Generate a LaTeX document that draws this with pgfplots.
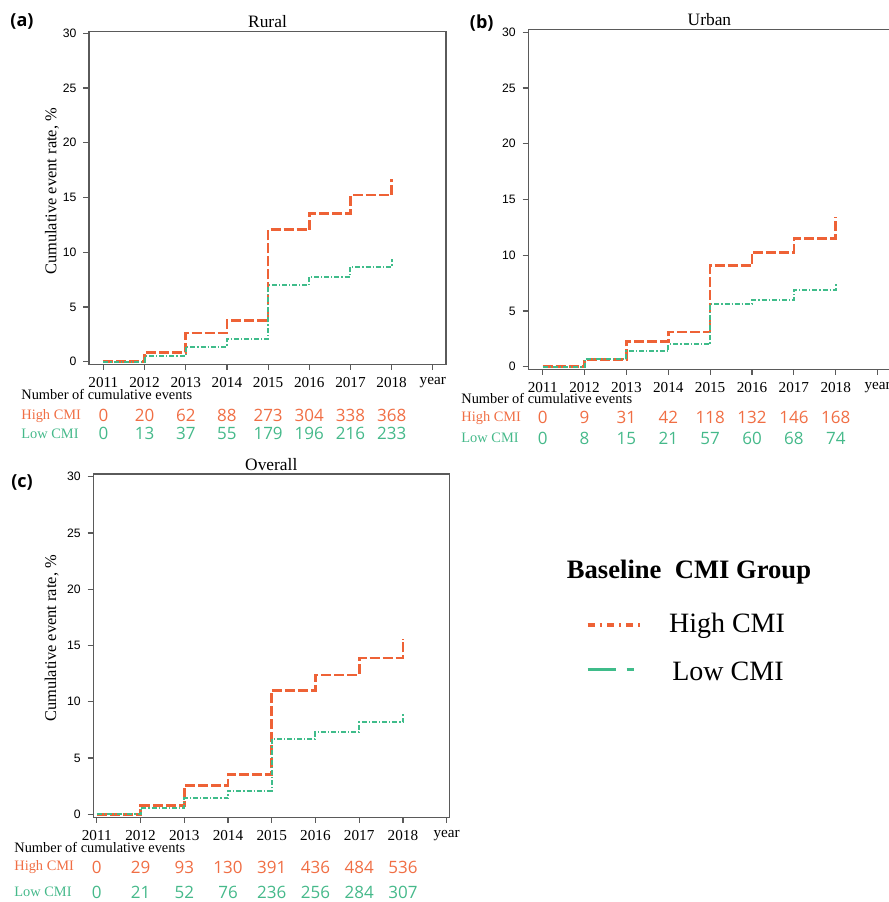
\documentclass[border=0pt]{standalone}
\usepackage{fontspec}
\setmainfont{Liberation Serif}
\newfontfamily\axsans{Liberation Sans}
\newfontfamily\numsans{Open Sans}
\usepackage{pgfplots}
\pgfplotsset{compat=1.18}
\definecolor{hicmi}{HTML}{EE6236}
\definecolor{locmi}{HTML}{3FBC8A}
\definecolor{hitext}{HTML}{F06E44}
\definecolor{lotext}{HTML}{45B98A}
\definecolor{frame}{HTML}{5A5A5A}

\pgfplotsset{
  kmpanel/.style={
    scale only axis, clip=false,
    axis line style={draw=frame, line width=0.6pt},
    tick style={draw=frame, line width=0.6pt},
    tick align=outside, major tick length=2.8pt,
    xtick pos=left, ytick pos=left,
    ytick={0,5,...,30}, xtick={2011,...,2019},
    xticklabels={2011,2012,2013,2014,2015,2016,2017,2018,year},
    xticklabel style={font=\fontsize{7.6}{9}\selectfont, text=black},
    yticklabel style={font=\axsans\fontsize{6.1}{7}\selectfont, text=black},
    /pgf/number format/assume math mode=true,
    title style={font=\fontsize{8.7}{10}\selectfont, anchor=center, yshift=-1pt},
    ylabel style={font=\fontsize{8.2}{10}\selectfont, anchor=center},
  },
  hiline/.style={color=hicmi, line width=1.3pt, const plot, dash pattern=on 5pt off 1.5pt},
  loline/.style={color=locmi, line width=1pt, const plot, dash pattern=on 2.5pt off 1pt on 0.6pt off 1pt},
}
\tikzset{
  hinum/.style={text=hitext, font=\numsans\fontsize{8.5}{10}\selectfont, anchor=center},
  lonum/.style={text=lotext, font=\numsans\fontsize{8.5}{10}\selectfont, anchor=center},
}
% one row of cumulative event counts under an axis
\newcommand\eventrow[3]{%
  \foreach \yr/\v in {#3}{\edef\tmp{\noexpand\node[#2] at (axis cs:\yr,#1) {\v};}\tmp}}

\begin{document}
\begin{tikzpicture}
% (a) Rural
\begin{axis}[kmpanel, at={(44.5pt,268.85pt)}, anchor=south west,
  width=178.5pt, height=166.3pt, xmin=2010.65, xmax=2019.32, ymin=-0.24, ymax=30.15,
  title={Rural}, ylabel={Cumulative event rate, \%},
  ylabel style={at={(axis description cs:-0.104,0.52)}}]
\addplot[hiline] coordinates {(2011,0) (2012,0.85) (2013,2.62) (2014,3.78) (2015,12.05) (2016,13.54) (2017,15.22) (2018,15.22) (2018,16.7)};
\addplot[loline] coordinates {(2011,0) (2012,0.49) (2013,1.37) (2014,2.07) (2015,6.98) (2016,7.78) (2017,8.66) (2018,8.66) (2018,9.4)};
\eventrow{-4.93}{hinum}{2011/0,2012/20,2013/62,2014/88,2015/273,2016/304,2017/338,2018/368}
\eventrow{-6.60}{lonum}{2011/0,2012/13,2013/37,2014/55,2015/179,2016/196,2017/216,2018/233}
\end{axis}
% (b) Urban
\begin{axis}[kmpanel, at={(264.15pt,266.35pt)}, anchor=south west,
  width=181.15pt, height=170pt, xmin=2010.656, xmax=2019.31, ymin=-0.23, ymax=30.27,
  title={Urban}]
\addplot[hiline] coordinates {(2011,0) (2012,0.66) (2013,2.27) (2014,3.11) (2015,9.06) (2016,10.26) (2017,11.52) (2018,11.52) (2018,13.46)};
\addplot[loline] coordinates {(2011,0) (2012,0.72) (2013,1.41) (2014,2.0) (2015,5.65) (2016,5.98) (2017,6.91) (2018,6.91) (2018,7.54)};
\eventrow{-4.58}{hinum}{2011/0,2012/9,2013/31,2014/42,2015/118,2016/132,2017/146,2018/168}
\eventrow{-6.42}{lonum}{2011/0,2012/8,2013/15,2014/21,2015/57,2016/60,2017/68,2018/74}
\end{axis}
% (c) Overall
\begin{axis}[kmpanel, at={(46.65pt,42.35pt)}, anchor=south west,
  width=178pt, height=171.65pt, xmin=2010.92, xmax=2019.06, ymin=-0.27, ymax=30.24,
  title={Overall}, title style={yshift=-0.5pt}, ylabel={Cumulative event rate, \%},
  ylabel style={at={(axis description cs:-0.117,0.521)}}]
\addplot[hiline] coordinates {(2011,0) (2012,0.77) (2013,2.55) (2014,3.55) (2015,11.02) (2016,12.38) (2017,13.89) (2018,13.89) (2018,15.55)};
\addplot[loline] coordinates {(2011,0) (2012,0.56) (2013,1.42) (2014,2.10) (2015,6.66) (2016,7.28) (2017,8.17) (2018,8.17) (2018,8.97)};
\eventrow{-4.71}{hinum}{2011/0,2012/29,2013/93,2014/130,2015/391,2016/436,2017/484,2018/536}
\eventrow{-6.93}{lonum}{2011/0,2012/21,2013/52,2014/76,2015/236,2016/256,2017/284,2018/307}
\end{axis}
\begin{scope}[x=0.5pt, y=0.5pt]
% row captions
\tikzset{rowcap/.style={anchor=west, font=\fontsize{7.2}{9}\selectfont, inner sep=0pt}}
\node[rowcap] at (21,507) {Number of cumulative events};
\node[rowcap, text=hitext] at (21,486.3) {High CMI};
\node[rowcap, text=lotext] at (21,468) {Low CMI};
\node[rowcap] at (461,503) {Number of cumulative events};
\node[rowcap, text=hitext] at (461,484.3) {High CMI};
\node[rowcap, text=lotext] at (461,463.7) {Low CMI};
\node[rowcap] at (14,54.7) {Number of cumulative events};
\node[rowcap, text=hitext] at (14,34.7) {High CMI};
\node[rowcap, text=lotext] at (14,9.7) {Low CMI};
% panel letters
\tikzset{panel/.style={font=\numsans\bfseries\fontsize{9}{10}\selectfont, anchor=center}}
\node[panel] at (22,880) {(a)};
\node[panel] at (481.7,879) {(b)};
\node[panel] at (22,419) {(c)};
% legend
\node[font=\bfseries\fontsize{13.3}{15}\selectfont] at (689,330.3) {Baseline\ \ CMI Group};
\draw[hicmi, line width=1.75pt, dash pattern=on 3.5pt off 2.5pt on 1pt off 2.7pt] (587.5,277) -- (640,277);
\draw[locmi, line width=1.75pt, dash pattern=on 14.3pt off 5.3pt on 3.7pt off 5pt] (587.5,232.7) -- (634.5,232.7);
\node[font=\fontsize{14}{16}\selectfont] at (727,276) {High CMI};
\node[font=\fontsize{14}{16}\selectfont] at (728,231) {Low CMI};
\end{scope}
\pgfresetboundingbox
\path[use as bounding box] (0pt,0pt) rectangle (444.5pt,451pt);
\end{tikzpicture}
\end{document}
